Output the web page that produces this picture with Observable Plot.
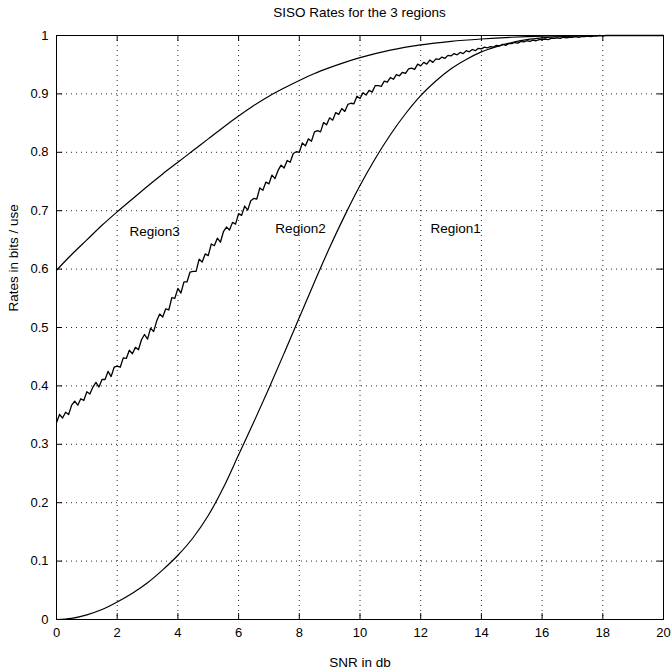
<!DOCTYPE html>
<html><head><meta charset="utf-8">
<script src="https://cdn.jsdelivr.net/npm/d3@7"></script>
<script src="https://cdn.jsdelivr.net/npm/@observablehq/plot@0.6"></script>
<style>
body{margin:0;background:#fff;font-family:"Liberation Sans",Arial,Helvetica,sans-serif;}
#title{width:671px;height:24px;line-height:26px;font-size:13.5px;box-sizing:border-box;padding-left:56px;padding-right:8px;text-align:center;color:#000;}
</style></head><body>
<div id="title">SISO Rates for the 3 regions</div>
<div id="chart"></div>
<script>
// Tick values
const xTicks = [0, 2, 4, 6, 8, 10, 12, 14, 16, 18, 20];
const yTicks = [0, 0.1, 0.2, 0.3, 0.4, 0.5, 0.6, 0.7, 0.8, 0.9, 1];

// Region1 (smooth sigmoid)
const snr1 = [0,0.5,1,1.5,2,2.5,3,3.5,4,4.5,5,5.5,6,6.5,7,7.5,8,8.5,9,9.5,10,10.5,11,11.5,12,12.5,13,13.5,14,14.5,15,15.5,16,17,18,19,20];
const rate1 = [0,0.002,0.008,0.017,0.03,0.045,0.063,0.085,0.11,0.14,0.178,0.226,0.282,0.338,0.396,0.456,0.517,0.578,0.637,0.692,0.743,0.789,0.83,0.866,0.897,0.922,0.943,0.959,0.972,0.981,0.988,0.993,0.996,0.999,1,1,1];

// Region3 (smooth, starts at 0.6)
const snr3 = [0,0.5,1,1.5,2,2.5,3,3.5,4,4.5,5,5.5,6,6.5,7,7.5,8,8.5,9,9.5,10,11,12,13,14,15,16,17,18,19,20];
const rate3 = [0.598,0.625,0.65,0.675,0.698,0.72,0.742,0.763,0.783,0.803,0.823,0.843,0.862,0.88,0.896,0.91,0.923,0.935,0.945,0.954,0.962,0.975,0.984,0.99,0.994,0.997,0.999,1,1,1,1];

// Region2 (noisy), sampled every 0.1 dB from 0 to 20
const snr2Step = 0.1;
const rate2 = [
0.337,0.351,0.345,0.355,0.351,0.367,0.374,0.367,0.378,0.375,0.390,
0.386,0.398,0.406,0.398,0.411,0.411,0.425,0.416,0.432,0.434,
0.432,0.448,0.447,0.461,0.455,0.466,0.462,0.479,0.488,0.480,
0.499,0.493,0.511,0.523,0.518,0.532,0.530,0.551,0.550,0.567,
0.559,0.578,0.578,0.595,0.596,0.596,0.617,0.612,0.626,0.623,
0.643,0.640,0.653,0.646,0.664,0.672,0.667,0.680,0.677,0.695,
0.692,0.708,0.701,0.717,0.721,0.720,0.739,0.735,0.749,0.746,
0.761,0.755,0.769,0.778,0.773,0.786,0.783,0.798,0.801,0.800,
0.816,0.811,0.823,0.819,0.835,0.837,0.835,0.851,0.847,0.859,
0.855,0.868,0.865,0.875,0.870,0.882,0.884,0.883,0.896,0.892,
0.902,0.898,0.906,0.903,0.914,0.914,0.913,0.922,0.920,0.928,
0.925,0.933,0.931,0.937,0.935,0.943,0.944,0.942,0.951,0.948,
0.954,0.951,0.958,0.954,0.960,0.959,0.963,0.961,0.966,0.965,
0.969,0.967,0.971,0.969,0.974,0.972,0.976,0.974,0.978,0.977,
0.980,0.979,0.981,0.980,0.983,0.982,0.985,0.983,0.986,0.986,
0.988,0.987,0.990,0.989,0.991,0.990,0.992,0.991,0.993,0.993,
0.994,0.993,0.995,0.995,0.996,0.995,0.997,0.996,0.997,0.997,
0.998,0.997,0.998,0.998,0.999,0.998,0.999,0.999,1.000,0.999,
1,1,1,1,1,1,1,1,1,1,
1,1,1,1,1,1,1,1,1,1
];

// Region labels
const labelNames = ["Region3", "Region2", "Region1"];
const labelSnr = [3.23, 8.04, 13.15];
const labelRate = [0.664, 0.67, 0.67];

const r1 = snr1.map((x, i) => ({x, y: rate1[i]}));
const r3 = snr3.map((x, i) => ({x, y: rate3[i]}));
const r2 = rate2.map((y, i) => ({x: +(i * snr2Step).toFixed(1), y}));
const labels = labelNames.map((t, i) => ({t, x: labelSnr[i], y: labelRate[i]}));

const innerX = xTicks.filter(d => d > 0 && d < 20);
const innerY = yTicks.filter(d => d > 0 && d < 1);
const fmtY = d => String(+d.toFixed(1));

const chart = Plot.plot({
  width: 671,
  height: 646,
  marginLeft: 56,
  marginRight: 8,
  marginTop: 11,
  marginBottom: 51,
  style: {fontFamily: '"Liberation Sans", Arial, sans-serif', fontSize: "13px", color: "black", background: "white", overflow: "visible"},
  x: {domain: [0, 20], ticks: xTicks, tickSize: 0, tickPadding: 8, label: null},
  y: {domain: [0, 1], ticks: yTicks, tickSize: 0, tickPadding: 8, label: null, tickFormat: fmtY},
  marks: [
    Plot.ruleX(innerX, {x: d => d, stroke: "black", strokeOpacity: 0.85, strokeWidth: 1, strokeDasharray: "1,4"}),
    Plot.ruleY(innerY, {y: d => d, stroke: "black", strokeOpacity: 0.85, strokeWidth: 1, strokeDasharray: "1,4"}),
    // inward ticks on all four sides
    Plot.ruleX(innerX, {x: d => d, y1: 0, y2: 0.01, stroke: "black"}),
    Plot.ruleX(innerX, {x: d => d, y1: 0.99, y2: 1, stroke: "black"}),
    Plot.ruleY(innerY, {y: d => d, x1: 0, x2: 0.2, stroke: "black"}),
    Plot.ruleY(innerY, {y: d => d, x1: 19.8, x2: 20, stroke: "black"}),
    Plot.line(r1, {x: "x", y: "y", curve: "monotone-x", stroke: "black", strokeWidth: 1.2}),
    Plot.line(r3, {x: "x", y: "y", curve: "monotone-x", stroke: "black", strokeWidth: 1.2}),
    Plot.line(r2, {x: "x", y: "y", curve: "linear", stroke: "black", strokeWidth: 1.3}),
    Plot.text(labels, {x: "x", y: "y", text: "t", fontSize: 13.5, fill: "black"}),
    Plot.text(["SNR in db"], {frameAnchor: "bottom", dy: 43, fontSize: 13.5, fill: "black", lineAnchor: "middle"}),
    Plot.text(["Rates in bits / use"], {frameAnchor: "left", dx: -43, dy: -16, rotate: -90, fontSize: 13.5, fill: "black"}),
    Plot.frame({stroke: "black", strokeWidth: 1})
  ]
});
document.getElementById("chart").appendChild(chart);
</script></body></html>
